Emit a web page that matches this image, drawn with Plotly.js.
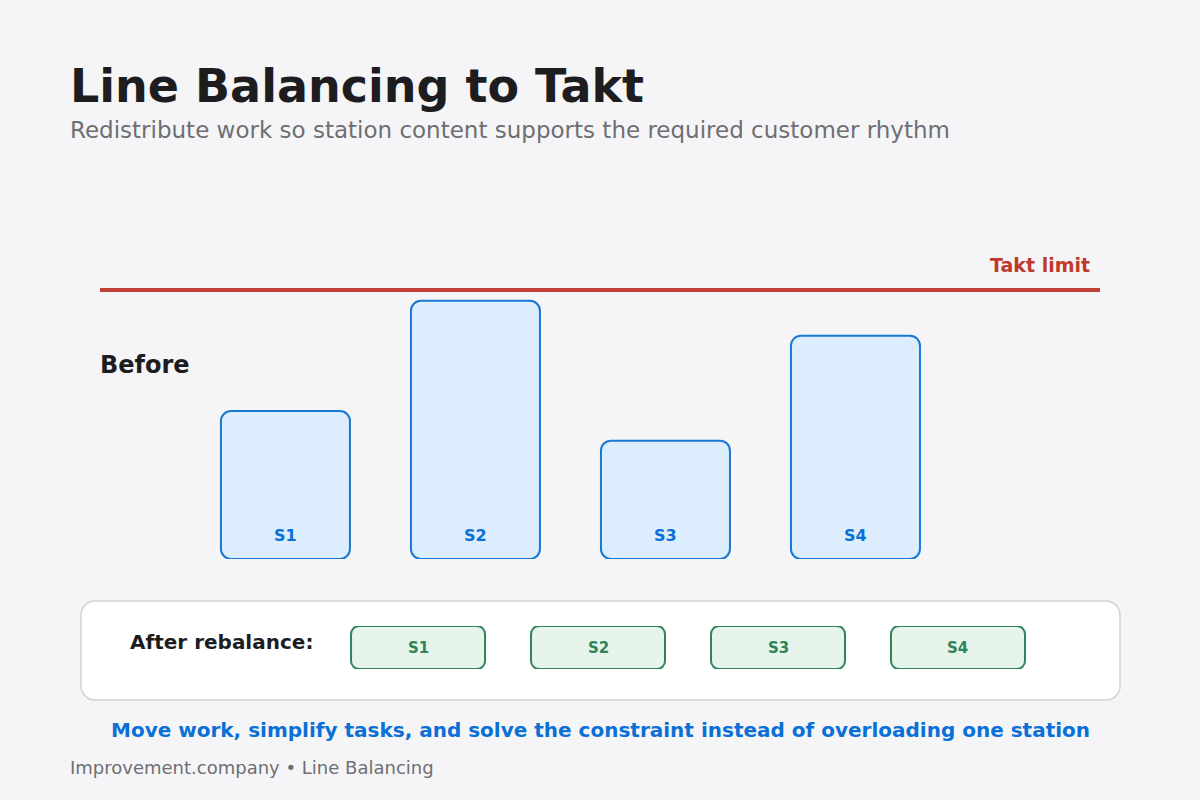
<!DOCTYPE html>
<html>
<head>
<meta charset="utf-8">
<script src="https://cdn.plot.ly/plotly-3.0.1.min.js"></script>
<style>
  html, body { margin: 0; padding: 0; background: #f5f5f7; }
  #chart { width: 1200px; height: 800px; }
</style>
</head>
<body>
<div id="chart"></div>
<script>
// ---- data ----
const stations = ["S1", "S2", "S3", "S4"];
const beforeLoad = [55, 96, 44, 83];      // station work content, % of takt
const taktLimit = 100;                    // takt time (100 %)
const afterStations = ["S1", "S2", "S3", "S4"];
const afterLoad = [1, 1, 1, 1];           // balanced chips (equal)

const titleText = "Line Balancing to Takt";
const subtitleText = "Redistribute work so station content supports the required customer rhythm";
const beforeLabel = "Before";
const taktLabel = "Takt limit";
const afterLabel = "After rebalance:";
const messageText = "Move work, simplify tasks, and solve the constraint instead of overloading one station";
const footerText = "Improvement.company \u2022 Line Balancing";

// ---- layout helpers (page pixels -> paper coords) ----
const M = { l: 100, r: 100, t: 200, b: 80 };
const W = 1200, H = 800;
const PW = W - M.l - M.r, PH = H - M.t - M.b;
const xp = px => (px - M.l) / PW;
const yp = py => (H - M.b - py) / PH;

function roundedRectPath(x0, y0, x1, y1, r) {
  const k = 0.5523 * r;
  const P = (x, y) => xp(x) + "," + yp(y);
  return "M" + P(x0 + r, y0) +
    " L" + P(x1 - r, y0) +
    " C" + P(x1 - r + k, y0) + " " + P(x1, y0 + r - k) + " " + P(x1, y0 + r) +
    " L" + P(x1, y1 - r) +
    " C" + P(x1, y1 - r + k) + " " + P(x1 - r + k, y1) + " " + P(x1 - r, y1) +
    " L" + P(x0 + r, y1) +
    " C" + P(x0 + r - k, y1) + " " + P(x0, y1 - r + k) + " " + P(x0, y1 - r) +
    " L" + P(x0, y0 + r) +
    " C" + P(x0, y0 + r - k) + " " + P(x0 + r - k, y0) + " " + P(x0 + r, y0) + " Z";
}

const blueFill = "#dcedfd", blueLine = "#1b78d0", blueText = "#0a6fd6";
const greenFill = "#e6f4ec", greenLine = "#2f855a", greenText = "#2f855a";

const barW = 0.679, chipW = 0.7444;

// Bars drawn downward from their value to zero (base = value, y = -value),
// which gives rounded corners on both ends.
const data = [
  { type: "bar", x: stations, base: beforeLoad, y: beforeLoad.map(v => -v), width: barW,
    xaxis: "x", yaxis: "y", hoverinfo: "skip", showlegend: false,
    marker: { color: blueFill, cornerradius: 10, line: { color: blueLine, width: 2 } } },
  { type: "bar", x: afterStations, base: afterLoad, y: afterLoad.map(v => -v), width: chipW,
    xaxis: "x2", yaxis: "y2", hoverinfo: "skip", showlegend: false,
    marker: { color: greenFill, cornerradius: 8, line: { color: greenLine, width: 2 } } }
];

const annotations = [];
stations.forEach(s => annotations.push({
  xref: "x", yref: "y", x: s, y: 0, yshift: 24, text: "<b>" + s + "</b>",
  showarrow: false, font: { family: "DejaVu Sans", size: 16, color: blueText },
  xanchor: "center", yanchor: "middle"
}));
afterStations.forEach(s => annotations.push({
  xref: "x2", yref: "y2", x: s, y: 0.5, text: "<b>" + s + "</b>",
  showarrow: false, font: { family: "DejaVu Sans", size: 15, color: greenText },
  xanchor: "center", yanchor: "middle"
}));
annotations.push(
  { xref: "paper", yref: "paper", x: xp(68), y: yp(130), text: subtitleText, showarrow: false,
    xanchor: "left", yanchor: "middle", font: { family: "DejaVu Sans", size: 23, color: "#6e6e73" } },
  { xref: "paper", yref: "paper", x: xp(1092), y: yp(265), text: "<b>" + taktLabel + "</b>", showarrow: false,
    xanchor: "right", yanchor: "middle", font: { family: "DejaVu Sans", size: 19, color: "#c0392b" } },
  { xref: "paper", yref: "paper", x: xp(98), y: yp(365), text: "<b>" + beforeLabel + "</b>", showarrow: false,
    xanchor: "left", yanchor: "middle", font: { family: "DejaVu Sans", size: 24, color: "#1d1d1f" } },
  { xref: "paper", yref: "paper", x: xp(128), y: yp(642), text: "<b>" + afterLabel + "</b>", showarrow: false,
    xanchor: "left", yanchor: "middle", font: { family: "DejaVu Sans", size: 20, color: "#1d1d1f" } },
  { xref: "paper", yref: "paper", x: xp(600), y: yp(730), text: "<b>" + messageText + "</b>", showarrow: false,
    xanchor: "center", yanchor: "middle", font: { family: "DejaVu Sans", size: 20, color: blueText } },
  { xref: "paper", yref: "paper", x: xp(68), y: yp(767), text: footerText, showarrow: false,
    xanchor: "left", yanchor: "middle", font: { family: "DejaVu Sans", size: 18, color: "#6e6e73" } }
);

const layout = {
  width: W, height: H,
  margin: M,
  paper_bgcolor: "#f5f5f7",
  plot_bgcolor: "rgba(0,0,0,0)",
  barmode: "overlay",
  hovermode: false,
  showlegend: false,
  title: {
    text: "<b>" + titleText + "</b>",
    xref: "container", yref: "container",
    x: 70 / W, xanchor: "left",
    y: 1 - 86 / H, yanchor: "middle",
    font: { family: "DejaVu Sans", size: 46, color: "#1d1d1f" }
  },
  xaxis: { type: "category", range: [-0.976, 4.287], visible: false, fixedrange: true },
  yaxis: { domain: [yp(559), 1], range: [0, (559 - M.t) / 2.69], visible: false, fixedrange: true },
  xaxis2: { type: "category", anchor: "y2", domain: [0, 1], range: [-1.767, 3.789], visible: false, fixedrange: true },
  yaxis2: { anchor: "x2", domain: [yp(669), yp(626)], range: [0, 1], visible: false, fixedrange: true },
  shapes: [
    { type: "path", xref: "paper", yref: "paper", layer: "below",
      path: roundedRectPath(81, 601, 1120, 700, 14),
      fillcolor: "#ffffff", line: { color: "#d2d2d7", width: 1.5 } },
    { type: "line", xref: "paper", yref: "y", x0: 0, x1: 1, y0: taktLimit, y1: taktLimit,
      line: { color: "#c0403a", width: 4 } }
  ],
  annotations: annotations
};

Plotly.newPlot("chart", data, layout, { displayModeBar: false, staticPlot: true });
</script>
</body>
</html>
